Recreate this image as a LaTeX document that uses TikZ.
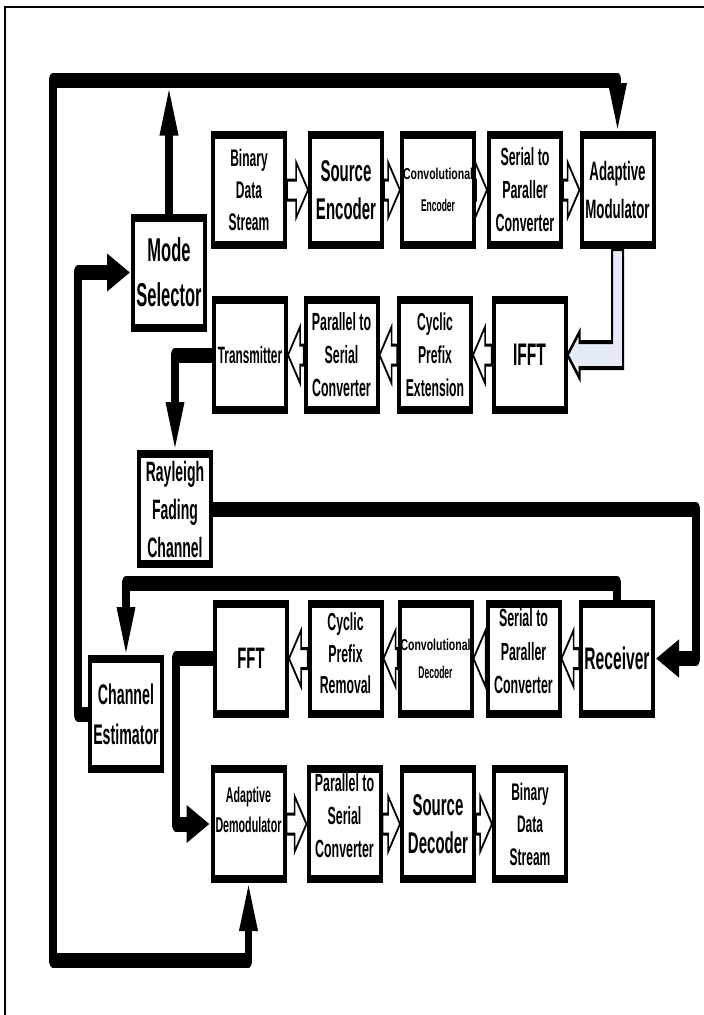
\documentclass[tikz,border=0pt]{standalone}
\usepackage{fontspec}
\usepackage{graphicx}
\setmainfont{Liberation Sans}
\usetikzlibrary{arrows.meta,calc}
\definecolor{lblue}{RGB}{228,235,246}
\newcommand\fsz[2]{\fontsize{#1}{#2}\selectfont\bfseries}
\newcommand\hollowR[2]{\draw[hol] let \p1=(#1.east), \p2=(#2.west) in
  (\x1,\y1+5pt) -- (\x2-12pt,\y1+5pt) -- (\x2-12pt,\y1+14pt) -- (\x2,\y1) --
  (\x2-12pt,\y1-14pt) -- (\x2-12pt,\y1-5pt) -- (\x1,\y1-5pt) -- cycle;}
\newcommand\hollowL[2]{\draw[hol] let \p1=(#1.west), \p2=(#2.east) in
  (\x1,\y1+5pt) -- (\x2+12pt,\y1+5pt) -- (\x2+12pt,\y1+14pt) -- (\x2,\y1) --
  (\x2+12pt,\y1-14pt) -- (\x2+12pt,\y1-5pt) -- (\x1,\y1-5pt) -- cycle;}
\tikzset{
  blk/.style={draw=black, line width=4pt, fill=white, minimum width=72pt,
    minimum height=55pt, inner sep=0pt, align=center},
  conn/.style={draw=black, line width=7.5pt, line join=round},
  headtip/.style={-{Triangle[length=24pt,width=17pt]}},
  hol/.style={draw=black, line width=1.5pt, fill=white, line join=miter},
  bluearrow/.style={draw=black, line width=2pt, fill=lblue, line join=miter}
}
\begin{document}
\begin{tikzpicture}[x=1pt,y=1pt]
\useasboundingbox (0,0) rectangle (704,-1015);
\draw[line width=2pt] (5,-1015) -- (5,-7) -- (704,-7);
\begin{scope}[transform canvas={yscale=2}]
% boxes
\node[blk,font=\fsz{12}{16}] (BDS1) at (249,-95) {Binary\\Data\\Stream};
\node[blk,font=\fsz{15}{19}] (SE) at (346,-95) {Source\\Encoder};
\node[blk,font=\fsz{10.5}{16}] (CE1) at (438,-95) {\scalebox{1}[0.75]{Convolutional}\\{\fsz{8.5}{16}Encoder}};
\node[blk,font=\fsz{12.4}{16.5}] (SP1) at (525,-95) {Serial to\\Paraller\\Converter};
\node[blk,font=\fsz{13.3}{19}] (AM) at (617.5,-95) {Adaptive\\Modulator};
\node[blk,font=\fsz{16.5}{22.5}] (MS) at (169,-136.25) {Mode\\Selector};
\node[blk,font=\fsz{11.8}{16}] (TX) at (250,-177.5) {Transmitter};
\node[blk,font=\fsz{12.4}{16.5}] (PS1) at (341.5,-177.5) {Parallel to\\Serial\\Converter};
\node[blk,font=\fsz{12.2}{16.5}] (CPE) at (435,-177.5) {Cyclic\\Prefix\\Extension};
\node[blk,font=\fsz{15.6}{19}] (IFFT) at (529.5,-177.5) {IFFT};
\node[blk,font=\fsz{14}{19}] (RFC) at (175,-254.5) {Rayleigh\\Fading\\Channel};
\node[blk,font=\fsz{14.8}{19}] (FFT) at (251,-329.25) {FFT};
\node[blk,font=\fsz{12.3}{15.75}] (CPR) at (345.5,-329.25) {Cyclic\\Prefix\\Removal\\[-10.75pt]\mbox{}};
\node[blk,font=\fsz{10.5}{14}] (CD) at (435.5,-329.25) {\scalebox{1}[0.75]{Convolutional}\\{\fsz{8.5}{14}Decoder}};
\node[blk,font=\fsz{12.4}{16.75}] (SP3) at (523.5,-329.25) {Serial to\\Paraller\\Converter\\[-9.75pt]\mbox{}};
\node[blk,font=\fsz{15.6}{19}] (RX) at (617,-329.25) {Receiver};
\node[blk,font=\fsz{14.2}{20}] (CEst) at (126,-357) {Channel\\Estimator};
\node[blk,font=\fsz{10.7}{15}] (AD) at (248.5,-412) {Adaptive\\Demodulator\\[-1pt]\mbox{}};
\node[blk,font=\fsz{12.4}{16.5}] (PS4) at (344.5,-412) {Parallel to\\Serial\\Converter\\[-8.5pt]\mbox{}};
\node[blk,font=\fsz{15}{19}] (SD) at (438,-412) {Source\\Decoder};
\node[blk,font=\fsz{12}{16.25}] (BDS4) at (530,-412) {Binary\\Data\\Stream};
% helper coordinates
\coordinate (TLL) at (53,-40);
\coordinate (TLR) at (AM.north |- TLL);
\coordinate (BL) at (53,-480);
\coordinate (X2) at (78,0);
\coordinate (X3) at (696,0);
\coordinate (Y4) at (0,-291.5);
\coordinate (X5) at (176,0);
% hollow arrows
\hollowR{BDS1}{SE}
\hollowR{SE}{CE1}
\hollowR{CE1}{SP1}
\hollowR{SP1}{AM}
\hollowL{IFFT}{CPE}
\hollowL{CPE}{PS1}
\hollowL{PS1}{TX}
\hollowL{RX}{SP3}
\hollowL{SP3}{CD}
\hollowL{CD}{CPR}
\hollowL{CPR}{FFT}
\hollowR{AD}{PS4}
\hollowR{PS4}{SD}
\hollowR{SD}{BDS4}
% light blue arrow Adaptive Modulator -> IFFT
\draw[bluearrow] let \p1=(AM.south), \p2=(IFFT.east) in
  (\x1-5.5pt,\y1) -- (\x1-5.5pt,\y2+6.5pt) -- (\x2+12pt,\y2+6.5pt) --
  (\x2+12pt,\y2+11.5pt) -- (\x2,\y2) -- (\x2+12pt,\y2-11.5pt) --
  (\x2+12pt,\y2-6.5pt) -- (\x1+5.5pt,\y2-6.5pt) -- (\x1+5.5pt,\y1) -- cycle;
% thick connectors
\draw[conn,headtip] (MS.north) -- ($(MS.north |- TLL)+(0,-3.75)$);
\draw[conn,headtip] (TLL) -- (TLR) -- (AM.north);
\draw[conn,headtip] (TLR) -- (TLL) -- (BL) -- (BL -| AD.south) -- (AD.south);
\draw[conn,headtip] (CEst.west) -- (CEst.west -| X2) -- (X2 |- MS.west) -- (MS.west);
\draw[conn,headtip] (TX.west) -| (RFC.north);
\draw[conn,headtip] (RFC.east) -- (RFC.east -| X3) -- (X3 |- RX.east) -- (RX.east);
\draw[conn,headtip] (RX.north) -- (RX.north |- Y4) -- (CEst.north |- Y4) -- (CEst.north);
\draw[conn,headtip] (FFT.west) -- (FFT.west -| X5) -- (X5 |- AD.west) -- (AD.west);
\end{scope}
\end{tikzpicture}
\end{document}
